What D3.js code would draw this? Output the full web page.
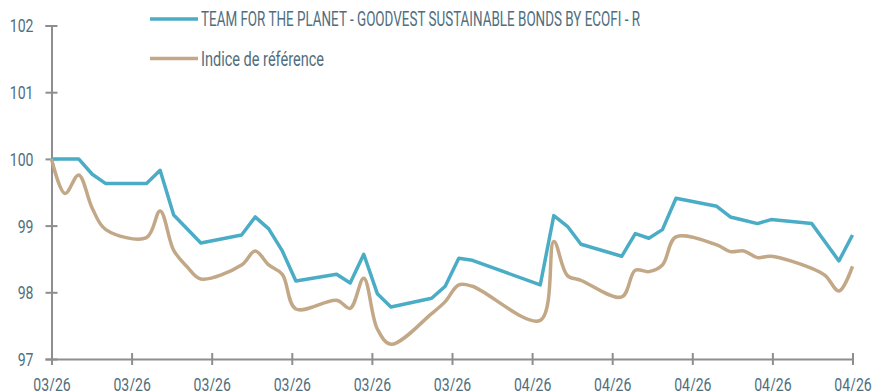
<!DOCTYPE html>
<html>
<head>
<meta charset="utf-8">
<script src="https://cdn.jsdelivr.net/npm/d3@7"></script>
<style>
  body { margin: 0; background: #fff; }
  svg { display: block; }
  text { font-family: Roboto, "Noto Sans", sans-serif; fill: #4f6e7e; }
</style>
</head>
<body>
<svg width="874" height="391"></svg>
<script>
// business days (offset from first day) and values
var jours = [0,1,2,3,4, 7,8,9,10,11, 14,15,16,17,18, 21,22,23,24,25, 28,29,30,31,
             36,37,38,39, 42,43,44,45,46, 49,50,51,52,53, 56,57,58,59];
var fonds = [100.0,100.0,100.0,99.77,99.63, 99.63,99.83,99.16,98.95,98.74,
             98.86,99.13,98.95,98.62,98.17, 98.27,98.14,98.57,97.98,97.78,
             97.91,98.09,98.51,98.48, 98.11,99.15,98.99,98.72,
             98.54,98.88,98.81,98.94,99.41, 99.29,99.13,99.08,99.03,99.09,
             99.03,98.75,98.47,98.86];
var indice = [100.0,99.48,99.76,99.26,98.94, 98.82,99.22,98.63,98.38,98.2,
              98.41,98.62,98.41,98.27,97.75, 97.88,97.76,98.21,97.45,97.22,
              97.68,97.86,98.11,98.09, 97.58,98.76,98.25,98.18,
              97.93,98.33,98.31,98.41,98.83, 98.71,98.61,98.62,98.52,98.54,
              98.36,98.25,98.02,98.39];
var xLabels = ["03/26","03/26","03/26","03/26","03/26","03/26","04/26","04/26","04/26","04/26","04/26"];
var yTicks = [97, 98, 99, 100, 101, 102];
var series = ["TEAM FOR THE PLANET - GOODVEST SUSTAINABLE BONDS BY ECOFI - R", "Indice de référence"];
var colors = ["#4bacc6", "#c2a886"];

var svg = d3.select("svg");
var axisColor = "#8e8e8e";

var x = d3.scaleLinear().domain([0, 59]).range([51.5, 852.5]);
var y = d3.scaleLinear().domain([97, 102]).range([359, 25.5]);

// squeeze text horizontally to mimic the condensed font
function condense(sel, k) {
  sel.each(function() {
    var w = this.getComputedTextLength();
    d3.select(this).attr("textLength", w * k).attr("lengthAdjust", "spacingAndGlyphs");
  });
}

// y axis
var gy = svg.append("g").attr("transform", "translate(" + x.range()[0] + ",0)")
  .call(d3.axisLeft(y).tickValues(yTicks).tickSize(6).tickPadding(12).tickFormat(d3.format("d")));
gy.select(".domain").attr("stroke", axisColor).attr("stroke-width", 2);
gy.selectAll(".tick line").attr("x1", -6).attr("x2", 6).attr("stroke", axisColor).attr("stroke-width", 2);
gy.selectAll(".tick text").attr("font-size", 18).attr("fill", "#4f6e7e").attr("dy", "0.36em")
  .call(condense, 0.78);

// x axis
var xTickVals = xLabels.map(function(d, i) { return 59 * i / (xLabels.length - 1); });
var gx = svg.append("g").attr("transform", "translate(0," + y.range()[0] + ")")
  .call(d3.axisBottom(x).tickValues(xTickVals).tickSize(6)
    .tickFormat(function(d, i) { return xLabels[i]; }));
gx.select(".domain").attr("stroke", axisColor).attr("stroke-width", 2);
gx.selectAll(".tick line").attr("y1", -6).attr("y2", 6).attr("stroke", axisColor).attr("stroke-width", 2);
gx.selectAll(".tick text").attr("font-size", 18).attr("fill", "#4f6e7e").attr("y", 19).attr("dy", "0.71em")
  .call(condense, 0.78);

// lines
var lineFonds = d3.line()
  .x(function(d, i) { return x(jours[i]); })
  .y(function(d) { return y(d); });
var lineIndice = d3.line()
  .x(function(d, i) { return x(jours[i]); })
  .y(function(d) { return y(d); })
  .curve(d3.curveCatmullRom.alpha(0.5));

svg.append("path").datum(fonds)
  .attr("d", lineFonds).attr("fill", "none")
  .attr("stroke", colors[0]).attr("stroke-width", 3.5).attr("stroke-linejoin", "round");
svg.append("path").datum(indice)
  .attr("d", lineIndice).attr("fill", "none")
  .attr("stroke", colors[1]).attr("stroke-width", 3.5);

// legend
var legend = svg.append("g").selectAll("g")
  .data(series).enter().append("g")
  .attr("transform", function(d, i) { return "translate(150," + (19 + i * 39.5) + ")"; });
legend.append("line")
  .attr("x1", 0).attr("x2", 48)
  .attr("stroke", function(d, i) { return colors[i]; })
  .attr("stroke-width", 3.5);
legend.append("text")
  .attr("x", 51).attr("y", 7)
  .attr("font-size", 19.5)
  .text(function(d) { return d; })
  .attr("textLength", function(d, i) { return i === 0 ? 439 : 123; })
  .attr("lengthAdjust", "spacingAndGlyphs");
</script>
</body>
</html>
